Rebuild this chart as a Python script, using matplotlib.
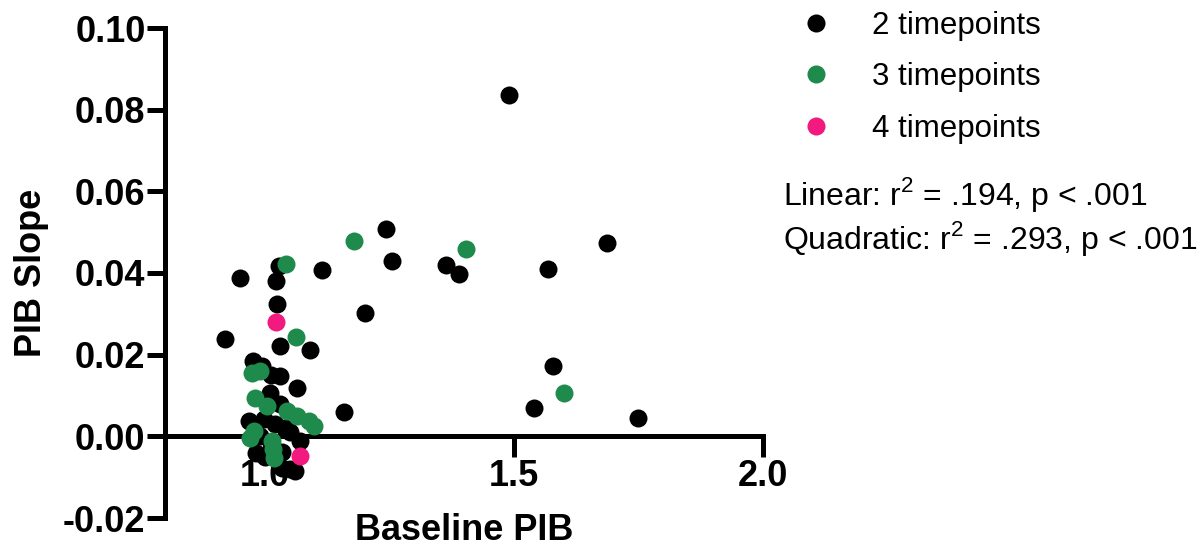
import matplotlib
matplotlib.use('Agg')
import matplotlib.pyplot as plt
from matplotlib.lines import Line2D

# 字型設定
plt.rcParams['font.family'] = ['Liberation Sans', 'DejaVu Sans']
plt.rcParams['mathtext.fontset'] = 'custom'
plt.rcParams['mathtext.rm'] = 'Liberation Sans'

# 2 timepoints
x_two = [1.490, 1.244, 1.256, 1.364, 1.390, 1.568, 1.686, 1.202, 1.160, 1.578,
         1.540, 1.750, 1.116, 1.028, 0.950, 1.022, 1.024, 0.920, 1.030, 1.090,
         0.976, 0.994, 1.012, 1.030, 1.064, 1.030, 0.968, 0.998, 1.020, 1.040,
         0.982, 1.034, 1.070, 1.000, 1.034, 1.050, 1.060, 0.990, 1.050, 1.010]
y_two = [0.0837, 0.0508, 0.0429, 0.0420, 0.0398, 0.0410, 0.0474, 0.0302, 0.0059, 0.0172,
         0.0069, 0.0044, 0.0407, 0.0417, 0.0388, 0.0380, 0.0324, 0.0238, 0.0221, 0.0211,
         0.0185, 0.0172, 0.0150, 0.0147, 0.0118, 0.0079, 0.0037, 0.0042, 0.0030, 0.0020,
         -0.0042, -0.0038, -0.0012, -0.0050, -0.0078, -0.0080, -0.0086, 0.0000, 0.0010, 0.0105]

# 3 timepoints
x_three = [1.180, 1.404, 1.600, 1.042, 1.062, 0.974, 0.980, 1.004, 1.044, 1.064,
           1.088, 1.098, 0.978, 0.970, 1.014, 1.018, 1.016, 0.990]
y_three = [0.0479, 0.0459, 0.0106, 0.0422, 0.0243, 0.0155, 0.0093, 0.0074, 0.0061, 0.0049,
           0.0037, 0.0025, 0.0012, -0.0005, -0.0012, -0.0054, -0.0030, 0.0160]

# 4 timepoints
x_four = [1.022, 1.070]
y_four = [0.0280, -0.0047]

x_ticks = [1.0, 1.5, 2.0]
y_ticks = [-0.02, 0.00, 0.02, 0.04, 0.06, 0.08, 0.10]

c_two = '#000000'
c_three = '#1e8a4c'
c_four = '#f2197f'

fig = plt.figure(figsize=(12.04, 5.5), dpi=100)
ax = fig.add_axes([165 / 1204, 32 / 550, (763 - 165) / 1204, (518 - 28) / 550])

ms = 168
ax.scatter(x_two, y_two, s=ms, color=c_two, linewidths=0, clip_on=False, zorder=3)
ax.scatter(x_three, y_three, s=ms, color=c_three, linewidths=0, clip_on=False, zorder=4)
ax.scatter(x_four, y_four, s=ms, color=c_four, linewidths=0, clip_on=False, zorder=5)

ax.set_xlim(0.80, 2.0)
ax.set_ylim(-0.02, 0.10)
ax.set_xticks(x_ticks)
ax.set_xticklabels(['%.1f' % v for v in x_ticks])
ax.set_yticks(y_ticks)
ax.set_yticklabels(['%.2f' % v for v in y_ticks])

# 軸線樣式
lw = 3.6
for side in ['top', 'right']:
    ax.spines[side].set_visible(False)
ax.spines['left'].set_linewidth(lw)
ax.spines['bottom'].set_linewidth(lw)
ax.spines['bottom'].set_position(('data', 0))
ax.spines['left'].set_capstyle('projecting')
ax.spines['bottom'].set_capstyle('projecting')
ax.tick_params(axis='both', width=lw, length=13, labelsize=26, direction='out', pad=1)
ax.tick_params(axis='x', length=15)
for lab in ax.get_xticklabels() + ax.get_yticklabels():
    lab.set_fontweight('bold')

ax.set_xlabel('Baseline PIB', fontsize=26, fontweight='bold', labelpad=14)
ax.set_ylabel('PIB Slope', fontsize=26, fontweight='bold', labelpad=10)

# 圖例
handles = [Line2D([], [], marker='o', linestyle='none', markersize=13, color=c, markeredgewidth=0)
           for c in [c_two, c_three, c_four]]
fig.legend(handles, ['2 timepoints', '3 timepoints', '4 timepoints'],
           loc='upper left', bbox_to_anchor=(785 / 1204, 1 - 11 / 550),
           frameon=False, fontsize=22.5, borderpad=0, borderaxespad=0,
           handlelength=2.0, handletextpad=0.8, labelspacing=0.68)

fig.text(783 / 1204, 1 - 195 / 550, r'Linear: r$^\mathregular{2}$ = .194, p < .001',
         fontsize=23, ha='left', va='center')
fig.text(783 / 1204, 1 - 239 / 550, r'Quadratic: r$^\mathregular{2}$ = .293, p < .001',
         fontsize=23, ha='left', va='center')

fig.savefig('out.png', dpi=100)
